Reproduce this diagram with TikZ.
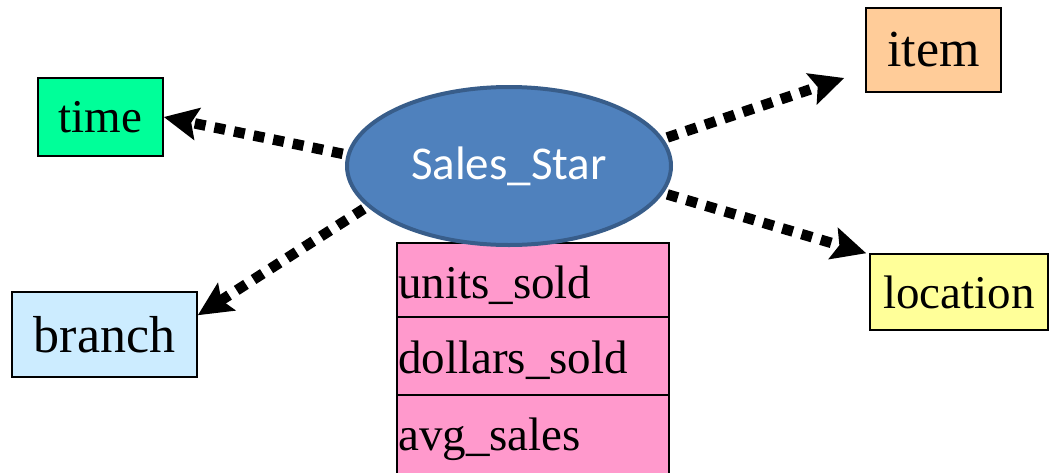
\documentclass[tikz,border=0pt]{standalone}
\usepackage{fontspec}
\setmainfont{Liberation Serif}
\newfontfamily\calibrifont{Carlito}
\usetikzlibrary{arrows.meta,shapes.geometric}

\definecolor{timegreen}{HTML}{00FF99}
\definecolor{itemorange}{HTML}{FFCC99}
\definecolor{branchblue}{HTML}{CCECFF}
\definecolor{locyellow}{HTML}{FFFF99}
\definecolor{factpink}{HTML}{FF99CC}
\definecolor{starfill}{HTML}{4F81BD}
\definecolor{starline}{HTML}{385D8A}

\tikzset{
  dimbox/.style={draw=black, line width=1.5pt, inner sep=0pt,
    font=\fontsize{47}{56}\selectfont},
  factrow/.style={draw=black, line width=1.5pt, fill=factpink, inner sep=0pt,
    minimum width=272pt},
  facttext/.style={inner sep=0pt, anchor=base west,
    font=\fontsize{47}{56}\selectfont},
  link/.style={line width=10.5pt, dash pattern=on 11pt off 9pt,
    -{Stealth[length=34pt,width=32pt,inset=6pt]}},
}

\begin{document}
\begin{tikzpicture}[x=1pt,y=-1pt]
\useasboundingbox (0,0) rectangle (1052,472);

% dimension tables
\node[dimbox, fill=timegreen, minimum width=125pt, minimum height=78pt] (time) at (100.5,117) {time};
\node[dimbox, fill=itemorange, minimum width=135pt, minimum height=84pt,
      font=\fontsize{52}{60}\selectfont] (item) at (933.5,50) {item};
\node[dimbox, fill=branchblue, minimum width=185pt, minimum height=85pt,
      font=\fontsize{52}{60}\selectfont] (branch) at (104.5,334.5) {branch};
\node[dimbox, fill=locyellow, minimum width=178pt, minimum height=76pt] (location) at (959,292) {location};

% fact table measures
\node[factrow, minimum height=74pt] (r1) at (533,280) {};
\node[factrow, minimum height=78pt] (r2) at (533,356) {};
\node[factrow, minimum height=82pt] (r3) at (533,436) {};
\node[facttext] (t1) at (398,298) {units\_sold};
\node[facttext] (t2) at (398,373) {dollars\_sold};
\node[facttext] (t3) at (398,450) {avg\_sales};

% star centre
\node[ellipse, draw=starline, line width=4pt, fill=starfill, text=white,
      minimum width=324pt, minimum height=158pt, inner sep=0pt,
      font=\calibrifont\fontsize{47}{56}\selectfont] (star) at (509,166) {Sales\_Star};

% links to the dimensions
\draw[link, shorten <=4pt] (star.176) -- (time.east);
\draw[link, shorten <=4pt] (star.10) -- ([xshift=-21pt,yshift=-28pt]item.west);
\draw[link, shorten <=4pt] (star.196) -- ([yshift=-24pt]branch.north east);
\draw[link, shorten <=4pt] (star.350) -- ([xshift=-3pt]location.north west);
\end{tikzpicture}
\end{document}
